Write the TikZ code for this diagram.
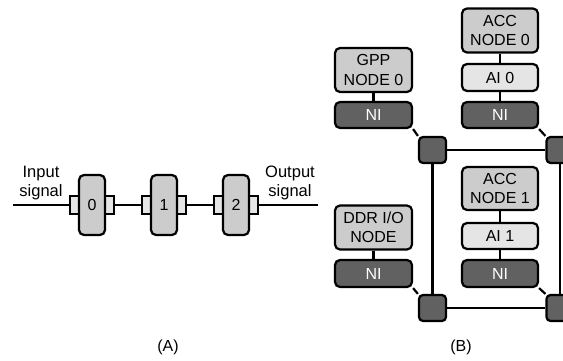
\documentclass[tikz,border=0pt]{standalone}
\usepackage{fontspec}
\setmainfont{Liberation Sans}
\usetikzlibrary{positioning}

\begin{document}
\begin{tikzpicture}[
    x=1pt, y=-1pt,
    line width=2.2pt,
    stagebox/.style={
        draw=black,
        rounded corners=5pt,
        fill=black!20,
        minimum width=26pt,
        minimum height=60pt,
        inner sep=0pt,
        font=\fontsize{16}{19}\selectfont
    },
    portbox/.style={
        draw=black,
        fill=black!10,
        minimum width=12pt,
        minimum height=18pt,
        inner sep=0pt
    },
    pecard/.style={
        draw=black,
        rounded corners=5pt,
        fill=black!20,
        minimum width=77pt,
        minimum height=44pt,
        inner sep=0pt,
        align=center,
        font=\fontsize{16}{19.5}\selectfont
    },
    aicard/.style={pecard, fill=black!10, minimum height=27pt},
    nicard/.style={pecard, fill=black!62, text=white, minimum height=26pt},
    routerbox/.style={
        draw=black,
        rounded corners=4pt,
        fill=black!62,
        minimum width=27pt,
        minimum height=26pt,
        inner sep=0pt
    },
    sigtext/.style={align=center, font=\fontsize{16.5}{18.5}\selectfont},
    captext/.style={font=\fontsize{16}{19}\selectfont}
]
    \useasboundingbox (0,0) rectangle (563,361);

    % (A) pipeline
    \coordinate (inend) at (13,205);
    \coordinate (outend) at (318,205);
    \node[portbox] (p0l) at (76,205) {};
    \node[portbox] (p0r) at (108,205) {};
    \node[portbox] (p1l) at (148,205) {};
    \node[portbox] (p1r) at (180,205) {};
    \node[portbox] (p2l) at (220,205) {};
    \node[portbox] (p2r) at (252,205) {};
    \node[stagebox] (s0) at (92,205) {0};
    \node[stagebox] (s1) at (164,205) {1};
    \node[stagebox] (s2) at (236,205) {2};
    \draw (inend) -- (p0l);
    \draw (p0r) -- (p1l);
    \draw (p1r) -- (p2l);
    \draw (p2r) -- (outend);
    \node[sigtext] (insig) at (41,183) {Input\\signal};
    \node[sigtext] (outsig) at (290,183) {Output\\signal};
    \node[captext] (capa) at (168,347) {(A)};

    % (B) mesh
    \node[pecard] (gpp) at (373.5,70) {GPP\\NODE 0};
    \node[nicard] (nigpp) at (373.5,115) {NI};
    \node[pecard, minimum width=76pt] (acc0) at (500,30.5) {ACC\\NODE 0};
    \node[aicard, minimum width=76pt] (ai0) at (500,77.5) {AI 0};
    \node[nicard, minimum width=76pt] (niacc0) at (500,115) {NI};
    \node[pecard] (ddr) at (373.5,227.5) {DDR I/O\\NODE};
    \node[nicard, minimum height=27pt] (niddr) at (373.5,273.5) {NI};
    \node[pecard, minimum width=76pt, minimum height=43pt] (acc1) at (500,188.5) {ACC\\NODE 1};
    \node[aicard, minimum width=76pt, minimum height=26pt] (ai1) at (500,236) {AI 1};
    \node[nicard, minimum width=76pt, minimum height=27pt] (niacc1) at (500,273.5) {NI};

    \node[routerbox] (r00) at (432.5,150) {};
    \node[routerbox] (r01) at (560,150) {};
    \node[routerbox] (r10) at (432.5,308) {};
    \node[routerbox] (r11) at (560,308) {};

    \draw (gpp) -- (nigpp);
    \draw (acc0) -- (ai0);
    \draw (ai0) -- (niacc0);
    \draw (ddr) -- (niddr);
    \draw (acc1) -- (ai1);
    \draw (ai1) -- (niacc1);
    \draw (nigpp.south east) -- (r00.north west);
    \draw (niacc0.south east) -- (r01.north west);
    \draw (niddr.south east) -- (r10.north west);
    \draw (niacc1.south east) -- (r11.north west);
    \draw (r00) -- (r01);
    \draw (r10) -- (r11);
    \draw (r00) -- (r10);
    \draw (r01) -- (r11);
    \node[captext] (capb) at (461,347) {(B)};
\end{tikzpicture}
\end{document}
